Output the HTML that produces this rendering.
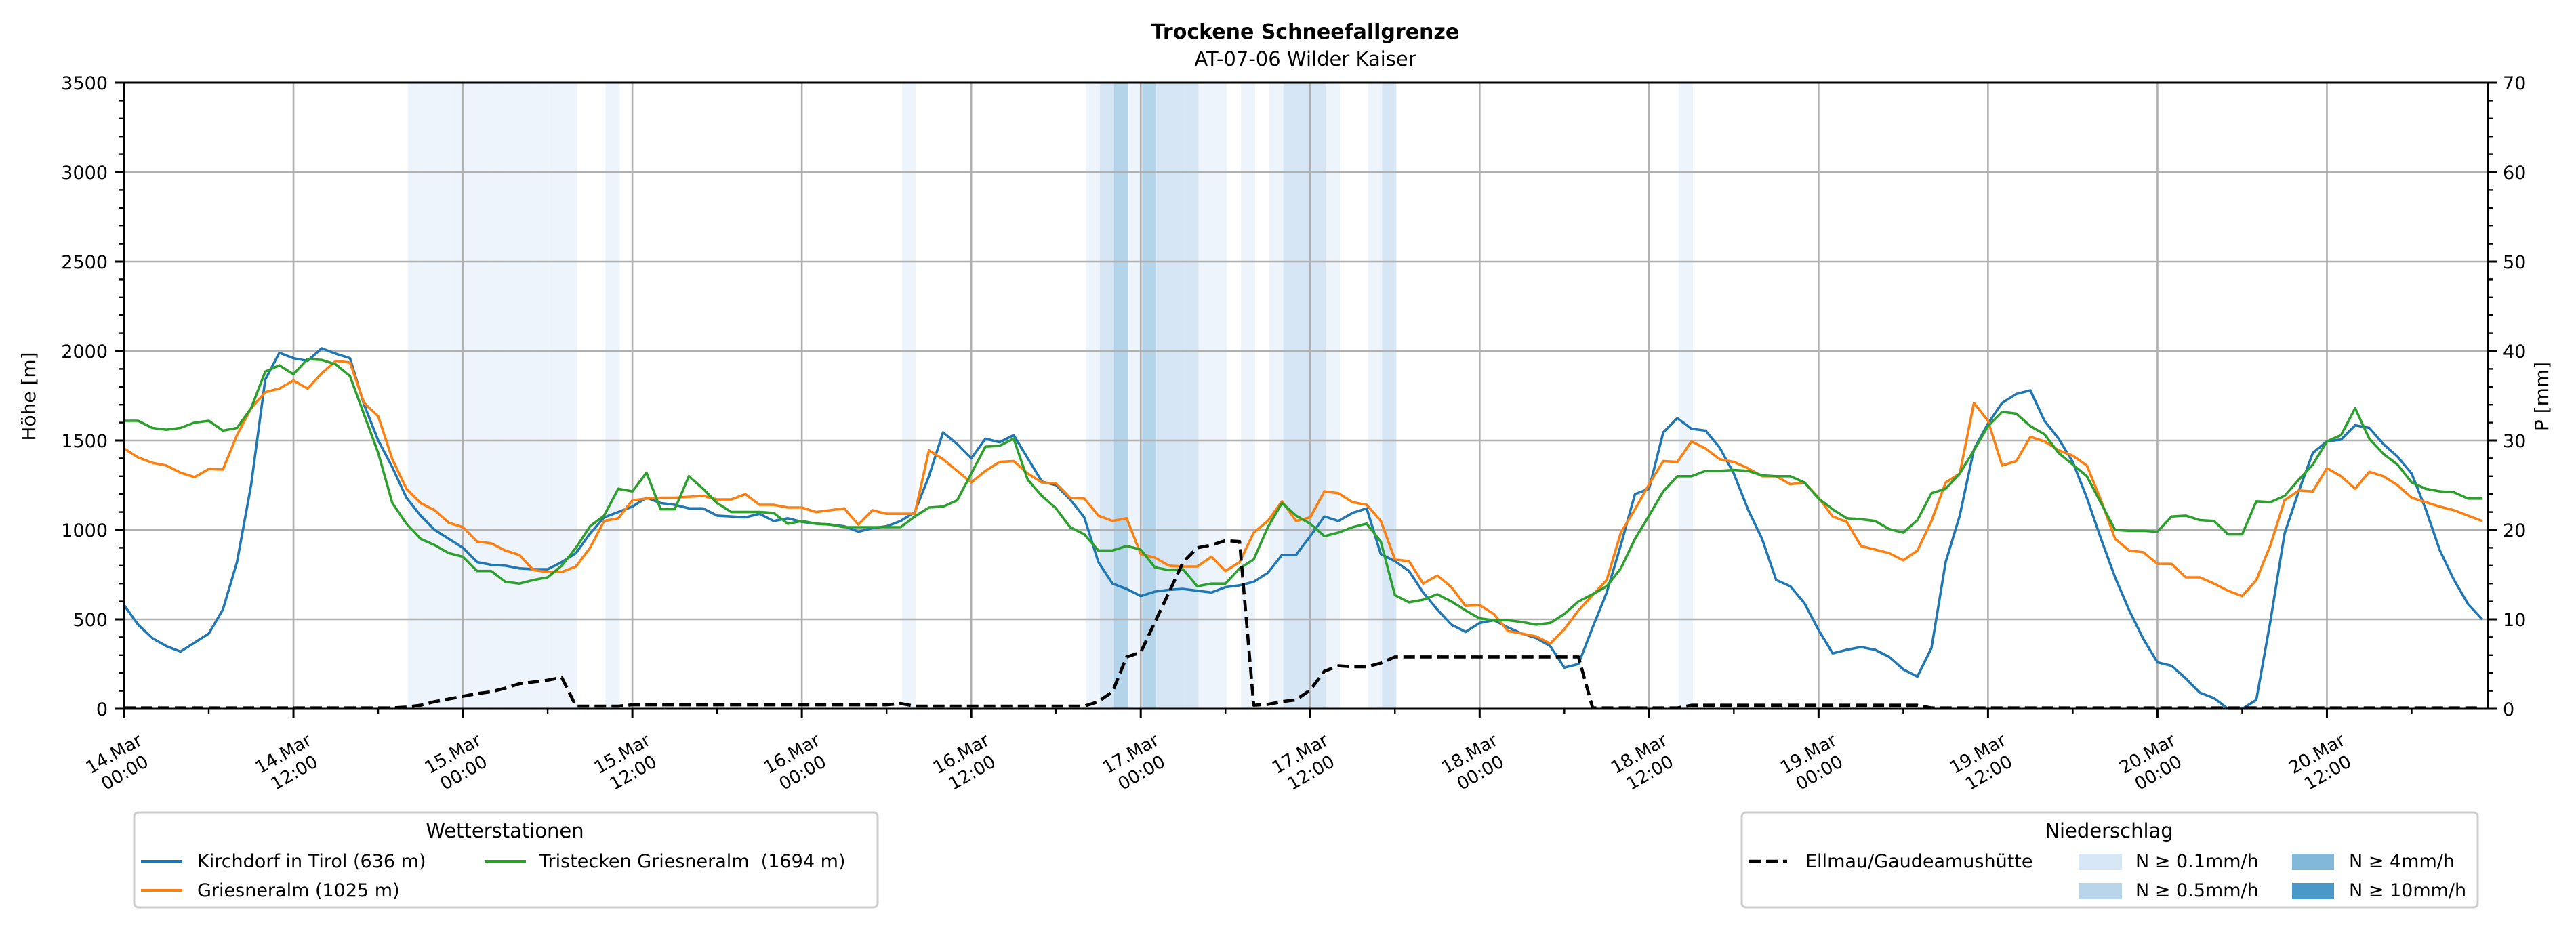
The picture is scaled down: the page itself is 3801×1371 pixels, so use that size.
<!DOCTYPE html>
<html><head><meta charset="utf-8"><style>
html,body{margin:0;padding:0;background:#fff;}
svg{display:block;font-family:"DejaVu Sans","Liberation Sans",sans-serif;}
</style></head><body>
<svg id="chart" width="3801" height="1371" viewBox="0 0 3801 1371" xmlns="http://www.w3.org/2000/svg">
<text x="1926" y="57" font-size="30" font-weight="bold" text-anchor="middle">Trockene Schneefallgrenze</text>
<text x="1926" y="97" font-size="29" text-anchor="middle">AT-07-06 Wilder Kaiser</text>
<g id="bands"></g>
<g id="grid"></g>
<g id="series"></g>
<g id="axes"></g>
<text transform="translate(52,585) rotate(-90)" font-size="28" text-anchor="middle">Höhe [m]</text>
<text transform="translate(3760,585) rotate(-90)" font-size="28" text-anchor="middle">P [mm]</text>

<g>
<rect x="198" y="1199" width="1097" height="140" rx="6" fill="#fff" stroke="#cccccc" stroke-width="3"/>
<text x="745" y="1236" font-size="29" text-anchor="middle">Wetterstationen</text>
<line x1="208" y1="1271" x2="269" y2="1271" stroke="#1f77b4" stroke-width="4"/>
<text x="291" y="1280" font-size="27">Kirchdorf in Tirol (636 m)</text>
<line x1="208" y1="1314" x2="269" y2="1314" stroke="#ff7f0e" stroke-width="4"/>
<text x="291" y="1323" font-size="27">Griesneralm (1025 m)</text>
<line x1="715" y1="1271" x2="776" y2="1271" stroke="#2ca02c" stroke-width="4"/>
<text x="796" y="1280" font-size="27" xml:space="preserve">Tristecken Griesneralm  (1694 m)</text>
</g>
<g>
<rect x="2570" y="1199" width="1086" height="140" rx="6" fill="#fff" stroke="#cccccc" stroke-width="3"/>
<text x="3112" y="1236" font-size="29" text-anchor="middle">Niederschlag</text>
<line x1="2581" y1="1271" x2="2637" y2="1271" stroke="#000" stroke-width="4.5" stroke-dasharray="17,8"/>
<text x="2664" y="1280" font-size="27">Ellmau/Gaudeamushütte</text>
<rect x="3067" y="1260" width="64" height="24" fill="#d8e7f5"/>
<text x="3151" y="1280" font-size="27">N ≥ 0.1mm/h</text>
<rect x="3067" y="1303" width="64" height="24" fill="#b9d5ea"/>
<text x="3151" y="1323" font-size="27">N ≥ 0.5mm/h</text>
<rect x="3382" y="1260" width="62" height="24" fill="#82b9db"/>
<text x="3466" y="1280" font-size="27">N ≥ 4mm/h</text>
<rect x="3382" y="1303" width="62" height="24" fill="#4a98c9"/>
<text x="3466" y="1323" font-size="27">N ≥ 10mm/h</text>
</g>
</svg>
<script>
const kirchdorf=[580,470,395,350,320,370,420,555,820,1250,1840,1990,1960,1945,2015,1985,1960,1700,1500,1350,1180,1080,1000,950,900,820,805,800,785,780,780,820,870,980,1070,1100,1130,1180,1150,1140,1120,1120,1080,1075,1070,1090,1050,1065,1045,1035,1030,1020,990,1010,1020,1050,1100,1300,1545,1480,1400,1510,1490,1530,1400,1270,1250,1170,1070,820,700,670,630,655,665,670,660,650,680,690,710,760,860,
860,965,1075,1050,1095,1120,865,825,770,650,555,470,430,480,495,455,420,395,350,230,250,455,650,915,1200,1230,1545,1625,1565,1555,1460,1315,1115,950,720,685,590,440,310,330,345,330,290,220,180,340,820,1080,1450,1595,1710,1760,1780,1610,1510,1380,1180,950,735,550,390,260,240,170,90,60,0,0,50,490,980,1215,1430,1495,1505,1585,1570,1480,1410,1315,1115,885,720,585,500];
const griesneralm=[1455,1405,1375,1360,1320,1295,1340,1337,1530,1680,1770,1790,1835,1790,1875,1945,1935,1710,1635,1395,1230,1150,1110,1040,1015,935,925,885,860,775,765,765,795,900,1050,1065,1165,1175,1180,1180,1185,1190,1170,1170,1200,1140,1140,1125,1125,1100,1110,1120,1030,1110,1090,1090,1090,1445,1395,1330,1265,1330,1380,1385,1315,1265,1260,1180,1175,1080,1050,1065,865,845,800,795,795,850,770,820,985,1050,1160,
1050,1070,1215,1205,1155,1140,1050,835,825,700,745,680,575,580,530,435,420,405,365,445,550,635,720,985,1115,1255,1385,1380,1495,1455,1395,1380,1345,1300,1300,1255,1265,1180,1075,1045,910,890,870,830,885,1050,1265,1315,1710,1610,1360,1385,1520,1495,1445,1415,1360,1165,950,885,875,810,810,735,735,700,660,630,720,915,1165,1220,1215,1345,1300,1230,1325,1300,1250,1180,1155,1130,1110,1080,1050];
const tristecken=[1610,1610,1570,1560,1570,1600,1610,1555,1570,1680,1885,1920,1870,1955,1950,1925,1860,1645,1430,1150,1035,950,915,870,850,770,770,710,700,720,735,800,900,1020,1080,1230,1215,1320,1115,1115,1300,1230,1150,1100,1100,1100,1095,1035,1050,1035,1030,1015,1015,1015,1015,1015,1075,1125,1130,1165,1315,1465,1470,1510,1280,1190,1120,1015,975,885,885,910,890,790,775,780,685,700,700,785,835,1015,1150,
1080,1035,965,985,1015,1035,935,635,595,610,640,600,550,505,495,495,485,470,480,530,600,640,685,785,950,1080,1215,1300,1300,1330,1330,1335,1330,1305,1300,1300,1265,1175,1115,1065,1060,1050,1005,985,1055,1205,1230,1315,1445,1580,1660,1650,1580,1535,1430,1365,1300,1150,1000,995,995,990,1075,1080,1055,1050,975,975,1160,1155,1190,1280,1365,1495,1530,1680,1510,1425,1365,1265,1230,1215,1210,1175,1175];
const ellmauMm=[0.1,0.1,0.1,0.1,0.1,0.1,0.1,0.1,0.1,0.1,0.1,0.1,0.1,0.1,0.1,0.1,0.1,0.1,0.1,0.1,0.2,0.4,0.8,1.1,1.4,1.7,1.9,2.3,2.8,3.0,3.2,3.5,0.3,0.3,0.3,0.3,0.45,0.45,0.45,0.45,0.45,0.45,0.45,0.45,0.45,0.45,0.45,0.45,0.45,0.45,0.45,0.45,0.45,0.45,0.45,0.6,0.3,0.3,0.3,0.3,0.3,0.3,0.3,0.3,0.3,0.3,0.3,0.3,0.3,0.8,1.9,5.8,6.3,9.7,13,16.4,18,18.3,18.8,18.7,0.4,0.5,0.8,
1.0,2.1,4.2,4.8,4.7,4.7,5.1,5.8,5.8,5.8,5.8,5.8,5.8,5.8,5.8,5.8,5.8,5.8,5.8,5.8,5.8,0.1,0.1,0.1,0.1,0.1,0.1,0.1,0.4,0.4,0.4,0.4,0.4,0.4,0.4,0.4,0.4,0.4,0.4,0.4,0.4,0.4,0.4,0.4,0.4,0.1,0.1,0.1,0.1,0.1,0.1,0.1,0.1,0.1,0.1,0.1,0.1,0.1,0.1,0.1,0.1,0.1,0.1,0.1,0.1,0.1,0.1,0.1,0.1,0.1,0.1,0.1,0.1,0.1,0.1,0.1,0.1,0.1,0.1,0.1,0.1,0.1,0.1,0.1,0.1];
const bandHours=[20,21,22,23,24,25,26,27,28,29,30,31,34,55,68,69,70,71,72,73,74,75,76,77,79,81,82,83,84,85,88,89,110];
const bandLevels=[1,1,1,1,1,1,1,1,1,1,1,1,1,1,1,2,3,1,3,2,2,2,1,1,1,1,2,2,2,1,1,2,1];
const yTicks=[0,500,1000,1500,2000,2500,3000,3500];
const y2Ticks=[0,10,20,30,40,50,60,70];
const xTickDays=["14.Mar","14.Mar","15.Mar","15.Mar","16.Mar","16.Mar","17.Mar","17.Mar","18.Mar","18.Mar","19.Mar","19.Mar","20.Mar","20.Mar"];
const xTickTimes=["00:00","12:00","00:00","12:00","00:00","12:00","00:00","12:00","00:00","12:00","00:00","12:00","00:00","12:00"];

const L=183,R=3671,T=122,B=1046,HMAX=167.4,BAND_OFF=0.1;
const NS="http://www.w3.org/2000/svg";
const xs=h=>L+(h/HMAX)*(R-L);
const ys=v=>B-(v/3500)*(B-T);
const ys2=v=>B-(v/70)*(B-T);
function mk(tag,attrs,parent){const e=document.createElementNS(NS,tag);for(const k in attrs)e.setAttribute(k,attrs[k]);parent.appendChild(e);return e;}
const bandColors=["none","#eef4fb","#d6e6f4","#b4d4e9","#82b9db","#4a98c9"];
const gB=document.getElementById('bands');
bandHours.forEach((h,i)=>{
  const x0=Math.max(L,xs(h+BAND_OFF)),x1=Math.min(R,xs(h+1+BAND_OFF));
  const r=mk('rect',{x:x0,y:T,width:x1-x0,height:B-T,fill:bandColors[bandLevels[i]]},gB);
  
  
});
const gG=document.getElementById('grid');
yTicks.forEach(v=>{const l=mk('line',{x1:L,x2:R,y1:ys(v),y2:ys(v),stroke:'#b0b0b0','stroke-width':2.6},gG);
  
  });
xTickDays.forEach((d,i)=>{const x=xs(i*12);const l=mk('line',{x1:x,x2:x,y1:T,y2:B,stroke:'#b0b0b0','stroke-width':2.6},gG);
  
  });
const gS=document.getElementById('series');
function line(arr,scale,color,w,name,dash){
  const pts=arr.map((v,i)=>xs(i).toFixed(1)+','+scale(v).toFixed(1)).join(' ');
  const p=mk('polyline',{points:pts,fill:'none',stroke:color,'stroke-width':w,'stroke-linejoin':'round'},gS);
  if(dash)p.setAttribute('stroke-dasharray',dash);
  
  
}
line(kirchdorf,ys,'#1f77b4',3.6,'kirchdorf-line');
line(griesneralm,ys,'#ff7f0e',3.6,'griesneralm-line');
line(tristecken,ys,'#2ca02c',3.6,'tristecken-line');
line(ellmauMm,ys2,'#000',4.6,'ellmau-precip-line','17,8');
const gA=document.getElementById('axes');
mk('rect',{x:L,y:T,width:R-L,height:B-T,fill:'none',stroke:'#000','stroke-width':3},gA);
for(let v=0;v<=3500;v+=100){const y=ys(v);const maj=v%500===0;
  mk('line',{x1:L-(maj?14:8),x2:L,y1:y,y2:y,stroke:'#000','stroke-width':maj?3:2.4},gA);
  mk('line',{x1:R,x2:R+(maj?14:8),y1:y,y2:y,stroke:'#000','stroke-width':maj?3:2.4},gA);}
yTicks.forEach(v=>{const t=mk('text',{x:L-24,y:ys(v)+10,'font-size':27,'text-anchor':'end'},gA);t.textContent=v;
  
  });
y2Ticks.forEach(v=>{const t=mk('text',{x:R+22,y:ys2(v)+10,'font-size':27},gA);t.textContent=v;
  
  });
for(let h=0;h<=HMAX;h+=6){const x=xs(h);const maj=h%12===0;
  mk('line',{x1:x,x2:x,y1:B,y2:B+(maj?14:8),stroke:'#000','stroke-width':maj?3:2.4},gA);}
xTickDays.forEach((d,i)=>{const x=xs(i*12)-6;
  const t=mk('text',{transform:`translate(${x},1128) rotate(-30)`,'font-size':26,'text-anchor':'middle'},gA);
  
  
  const a=mk('tspan',{x:0,y:-9},t);a.textContent=d;
  const b=mk('tspan',{x:0,y:23},t);b.textContent=xTickTimes[i];});
</script>
</body></html>
